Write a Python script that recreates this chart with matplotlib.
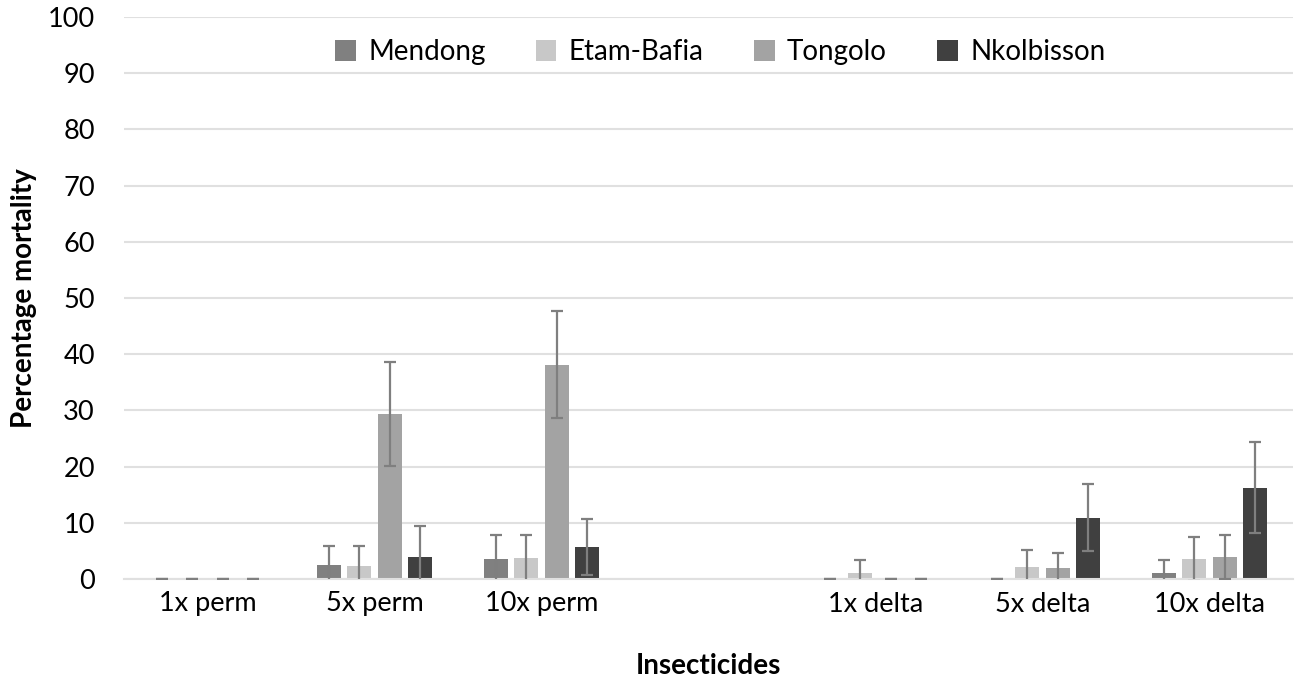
import numpy as np
import matplotlib
matplotlib.use('Agg')
import matplotlib.pyplot as plt

categories = ['1x perm', '5x perm', '10x perm', '', '1x delta', '5x delta', '10x delta']
series = ['Mendong', 'Etam-Bafia', 'Tongolo', 'Nkolbisson']
nan = np.nan

mendong = [0, 2.5, 3.6, nan, 0, 0, 1.1]
etam_bafia = [0, 2.3, 3.7, nan, 1.1, 2.1, 3.6]
tongolo = [0, 29.4, 38.1, nan, 0, 1.9, 3.9]
nkolbisson = [0, 3.9, 5.7, nan, 0, 10.9, 16.2]

mendong_err = [0, 3.4, 4.2, nan, 0, 0, 2.3]
etam_bafia_err = [0, 3.5, 4.2, nan, 2.3, 3.0, 3.9]
tongolo_err = [0, 9.3, 9.5, nan, 0, 2.7, 3.9]
nkolbisson_err = [0, 5.5, 5.0, nan, 0, 6.0, 8.1]

values = [mendong, etam_bafia, tongolo, nkolbisson]
errors = [mendong_err, etam_bafia_err, tongolo_err, nkolbisson_err]
colors = ['#808080', '#c8c8c8', '#a3a3a3', '#404040']

plt.rcParams['font.family'] = ['Lato', 'DejaVu Sans']

fig = plt.figure(figsize=(13.01, 6.87), dpi=100)
ax = fig.add_axes([124 / 1301, 108 / 687, 1169 / 1301, 562 / 687])

x = np.arange(len(categories))
step = 0.182
width = 0.145
for i, (name, vals, errs, col) in enumerate(zip(series, values, errors, colors)):
    pos = x + (i - 1.5) * step
    ax.bar(pos, vals, width, color=col, label=name, zorder=2)
    ax.errorbar(pos, vals, yerr=errs, fmt='none', ecolor='#7f7f7f',
                elinewidth=1.6, capsize=4.5, capthick=1.6, zorder=3)

ax.set_xlim(-0.5, len(categories) - 0.5)
ax.set_ylim(0, 100)
ax.set_yticks(np.arange(0, 101, 10))
ax.set_xticks(x)
ax.set_xticklabels(categories)
ax.tick_params(axis='both', length=0, labelsize=19.5)
ax.tick_params(axis='x', pad=9)
ax.tick_params(axis='y', pad=21)
ax.yaxis.grid(True, color='#e0e0e0', linewidth=1.5, zorder=0)
ax.set_axisbelow(True)
for s in ['top', 'right', 'left']:
    ax.spines[s].set_visible(False)
ax.spines['bottom'].set_color('#e0e0e0')
ax.spines['bottom'].set_linewidth(1.5)

ax.set_ylabel('Percentage mortality', fontsize=20, fontweight='bold', labelpad=8)
ax.set_xlabel('Insecticides', fontsize=20, fontweight='bold', labelpad=26)

ax.legend(loc='upper center', bbox_to_anchor=(0.51, 1.005), ncol=4, frameon=False,
          fontsize=20, handlelength=0.75, handleheight=0.75, handletextpad=0.45,
          columnspacing=1.8)

fig.savefig('out.png', dpi=100)
